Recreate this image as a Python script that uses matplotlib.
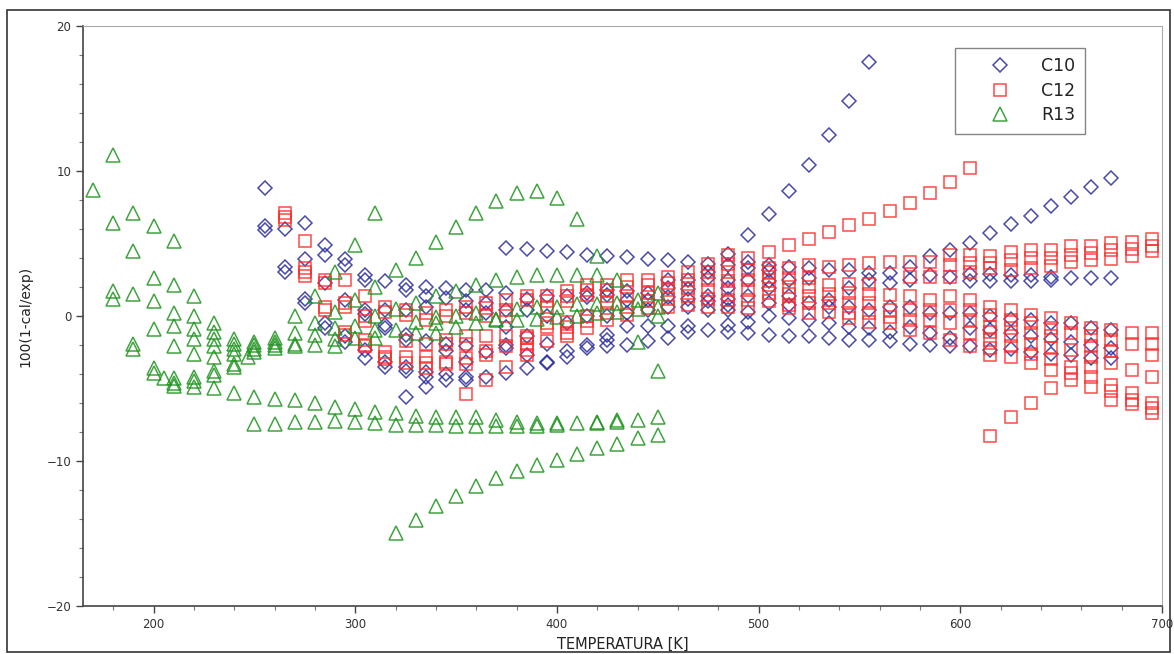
import matplotlib
matplotlib.use("Agg")
import matplotlib.pyplot as plt
from matplotlib.patches import Rectangle
from matplotlib.ticker import MultipleLocator
import numpy as np

# C10 deviations, one list per temperature column
c10_temps = [255, 265, 275, 285, 295, 305, 315, 325, 335, 345, 355, 365, 375, 385,
             395, 405, 415, 425, 435, 445, 455, 465, 475, 485, 495, 505, 515, 525,
             535, 545, 555, 565, 575, 585, 595, 605, 615, 625, 635, 645, 655, 665, 675]
c10_dev = [
    [8.8, 6.2, 5.9],
    [6.0, 3.4, 3.05],
    [6.4, 3.9, 1.2, 0.9],
    [4.9, 4.2, 2.25, -0.5, -0.85],
    [3.9, 3.5, 1.1, -1.4, -1.8],
    [2.8, 2.5, 0.4, 0.1, -2.35, -2.9],
    [2.4, 0.4, -0.6, -0.8, -3.15, -3.5],
    [2.1, 1.8, 0.4, -1.3, -1.65, -3.5, -3.8, -5.6],
    [2.0, 1.4, 0.6, -1.7, -3.85, -4.2, -4.9],
    [1.9, 1.25, -1.9, -2.45, -4.0, -4.4],
    [1.8, 1.0, 0.4, -2.1, -3.15, -4.2, -4.4],
    [1.8, 0.9, 0.2, -2.5, -4.2],
    [4.7, 1.55, 0.4, -0.75, -2.0, -2.2, -3.9],
    [4.6, 1.2, 0.4, -1.4, -2.7, -3.6],
    [4.5, 1.4, 0.0, -1.9, -3.15, -3.25],
    [4.4, 1.35, -0.5, -2.45, -2.8],
    [4.2, 1.55, 1.3, 0.0, -2.0, -2.2],
    [4.1, 1.8, 1.45, 0.0, -1.3, -1.65, -2.1],
    [4.05, 1.7, 1.1, 0.2, -0.7, -2.0],
    [3.9, 1.6, 1.1, 0.4, -0.7, -1.75],
    [3.85, 2.5, 1.9, 1.3, 0.6, -0.7, -1.55],
    [3.75, 2.5, 1.85, 1.2, 0.65, -0.7, -1.1],
    [3.6, 3.05, 2.6, 1.35, 1.0, 0.4, -1.0],
    [4.3, 3.5, 2.5, 1.9, 1.2, 0.75, 0.4, -0.6, -1.1],
    [5.6, 3.75, 3.3, 2.5, 1.35, 0.3, -0.4, -1.2],
    [7.0, 3.5, 3.2, 2.4, 1.9, 0.9, 0.0, -1.3],
    [8.6, 3.4, 2.5, 1.35, 0.75, -0.15, -1.4],
    [10.4, 3.3, 2.6, 0.9, -0.3, -1.4],
    [12.5, 3.2, 1.1, 0.65, -0.5, -1.5],
    [14.8, 3.2, 1.9, 0.65, -0.75, -1.65],
    [17.5, 2.95, 2.5, 0.4, -0.85, -1.65],
    [2.95, 2.25, 0.65, -1.1, -1.75],
    [3.4, 2.5, 0.65, -0.75, -1.9],
    [4.1, 2.8, 0.2, -1.2, -2.0],
    [4.55, 2.7, 0.2, -1.55, -2.1],
    [5.05, 2.9, 2.4, 0.2, -0.8, -2.1],
    [5.7, 2.9, 2.4, 0.0, -1.0, -2.35],
    [6.35, 2.8, 2.4, -0.2, -1.2, -2.3],
    [6.9, 2.8, 2.4, -0.3, -1.4, -2.5],
    [7.6, 2.7, 2.5, -0.5, -1.6, -2.6],
    [8.2, 2.6, -0.5, -1.8, -2.7],
    [8.9, 2.6, -0.8, -2.0, -2.9],
    [9.5, 2.6, -1.0, -2.2, -2.9],
]

# C12 deviations
c12_temps = [265, 275, 285, 295, 305, 315, 325, 335, 345, 355, 365, 375, 385, 395,
             405, 415, 425, 435, 445, 455, 465, 475, 485, 495, 505, 515, 525, 535,
             545, 555, 565, 575, 585, 595, 605, 615, 625, 635, 645, 655, 665, 675,
             685, 695]
c12_dev = [
    [7.1, 6.85, 6.6],
    [5.2, 3.3, 3.05, 2.75],
    [2.5, 2.25, 0.65, 0.4],
    [2.5, 0.9, 0.65, -1.1, -1.3],
    [1.35, 0.0, -0.35, -1.65, -2.0, -2.1],
    [0.65, 0.3, -2.5, -2.8, -3.0],
    [0.4, 0.07, -1.75, -2.8, -3.25],
    [0.2, -0.3, -1.9, -2.8, -3.25, -3.6],
    [0.4, 0.0, -1.65, -1.9, -3.15, -3.3],
    [0.65, 0.2, -1.4, -1.9, -2.9, -3.3, -5.35],
    [0.9, 0.55, 0.0, -1.4, -2.45, -2.7, -4.4],
    [1.1, 0.4, 0.0, -1.4, -2.1, -3.5],
    [1.35, 1.1, -1.4, -1.55, -1.9, -2.35, -2.7],
    [1.35, 1.0, 0.65, -0.5, -0.75, -1.75],
    [1.7, 1.35, 1.0, -0.4, -0.75, -1.2, -1.4],
    [2.1, 1.8, 1.45, 0.0, -0.35, -0.85],
    [2.1, 1.8, 1.35, 0.9, 0.2, -0.3],
    [2.5, 2.0, 1.35, 0.65, 0.07],
    [2.5, 2.1, 1.55, 1.0, 0.55],
    [2.7, 2.25, 1.8, 1.2, 0.65],
    [3.05, 2.5, 1.9, 1.35, 0.75],
    [3.6, 3.05, 2.5, 1.8, 1.2, 0.65],
    [4.2, 3.6, 3.05, 2.4, 1.8, 1.1, 0.65],
    [4.0, 3.2, 2.5, 1.8, 1.1, 0.55],
    [4.4, 3.3, 3.05, 2.7, 2.1, 1.55, 1.0],
    [4.9, 3.3, 2.6, 2.0, 1.5, 0.75, 0.55],
    [5.3, 3.5, 2.6, 2.0, 1.4, 0.9, 0.2],
    [5.8, 3.4, 2.1, 1.5, 0.9, 0.3],
    [6.3, 3.5, 2.2, 1.6, 0.9, 0.2, -0.15],
    [6.7, 3.65, 2.2, 1.5, 0.9, 0.2, -0.4],
    [7.25, 3.75, 1.45, 0.4, -0.1, -0.5],
    [7.8, 3.75, 2.7, 1.35, 0.4, -0.3, -0.95],
    [8.5, 3.75, 2.7, 1.1, 0.4, -0.3, -1.2],
    [9.25, 4.2, 3.5, 2.7, 1.35, 0.4, -0.5, -1.65],
    [10.2, 4.2, 3.65, 3.05, 1.1, 0.4, -0.3, -1.2, -2.1],
    [4.1, 3.65, 3.3, 0.65, 0.07, -0.75, -1.1, -1.65, -2.2, -2.7, -8.3],
    [4.4, 3.85, 3.2, 0.4, -0.3, -0.85, -1.4, -2.1, -2.8, -7.0],
    [4.55, 4.0, 3.3, 0.07, -0.5, -1.2, -1.9, -2.6, -3.25, -6.0],
    [4.55, 4.0, 3.45, -0.15, -0.85, -1.4, -2.2, -3.0, -3.7, -4.95],
    [4.8, 4.2, 3.75, -0.5, -1.2, -2.35, -3.5, -3.95, -4.4],
    [4.8, 4.35, 3.85, -0.85, -1.4, -2.1, -2.8, -3.5, -4.2, -4.9],
    [5.0, 4.55, 3.95, -1.0, -1.65, -2.45, -3.25, -4.75, -5.2, -5.8],
    [5.1, 4.65, 4.15, -1.2, -1.9, -3.7, -5.3, -5.8, -6.1],
    [5.3, 4.8, 4.5, -1.2, -1.9, -2.7, -4.2, -6.0, -6.35, -6.7],
]

# R13 deviations
r13_temps = [170, 180, 190, 200, 205, 210, 220, 230, 240, 247, 250, 260, 270, 280,
             290, 300, 310, 320, 330, 340, 350, 360, 370, 380, 390, 400, 410, 420,
             430, 440, 450]
r13_dev = [
    [8.7],
    [11.1, 6.4, 1.7, 1.2],
    [7.1, 4.5, 1.5, -1.9, -2.3],
    [6.2, 2.6, 1.0, -0.9, -3.6, -3.9],
    [-4.3],
    [5.2, 2.1, 0.2, -0.7, -2.1, -4.3, -4.6, -4.8],
    [1.4, 0.0, -0.9, -1.6, -2.6, -4.2, -4.5, -4.9],
    [-0.5, -1.1, -1.6, -2.1, -2.8, -3.8, -4.1, -5.0],
    [-1.6, -1.9, -2.3, -2.6, -3.3, -3.5, -5.3],
    [-2.8],
    [-1.8, -2.0, -2.3, -2.5, -5.6, -7.45],
    [-1.5, -1.8, -2.0, -2.2, -5.75, -7.45],
    [0.0, -1.15, -1.9, -2.1, -5.8, -7.3],
    [1.35, -0.5, -1.3, -2.0, -6.0, -7.3],
    [3.05, 0.3, -0.85, -1.6, -2.1, -6.25, -7.25],
    [4.9, 1.1, -0.7, -1.55, -6.4, -7.3],
    [7.1, 2.0, 0.0, -1.0, -1.5, -6.6, -7.4],
    [3.2, 0.5, -1.0, -6.7, -7.5, -15.0],
    [4.0, 0.9, -0.4, -1.2, -6.9, -7.5, -14.1],
    [5.1, 1.35, -0.1, -0.5, -1.2, -7.0, -7.5, -13.1],
    [6.1, 1.7, 0.0, -0.75, -7.0, -7.6, -12.4],
    [7.1, 2.1, 0.2, -0.5, -7.0, -7.6, -11.7],
    [7.9, 2.5, -0.3, -0.2, -7.2, -7.6, -11.2],
    [8.5, 2.7, 0.5, -0.3, -7.3, -7.6, -10.7],
    [8.6, 2.8, 0.65, -0.2, -7.4, -7.6, -10.3],
    [8.1, 2.8, 0.65, -0.1, -7.4, -7.5, -9.9],
    [6.7, 2.8, 0.8, 0.0, -7.4, -9.5],
    [4.1, 2.8, 0.8, 0.2, -7.3, -7.4, -9.1],
    [2.5, 0.9, 0.3, -7.2, -7.3, -8.8],
    [1.1, 0.5, -1.8, -7.2, -8.4],
    [1.6, 0.6, 0.0, -3.8, -7.0, -8.2],
]


def flatten(temps, devs):
    x = np.repeat(temps, [len(d) for d in devs])
    y = np.concatenate([np.array(d, dtype=float) for d in devs])
    return x, y


fig = plt.figure(figsize=(11.74, 6.54), dpi=100)
fig.patch.set_facecolor("white")
fig.patches.append(Rectangle((0.006, 0.003), 0.991, 0.982, transform=fig.transFigure,
                             fill=False, edgecolor="#333333", linewidth=1.2))

ax = fig.add_axes([0.0707, 0.0734, 0.919, 0.887])

series = [
    ("C10", c10_temps, c10_dev, "D", "#2b2b9e", 6.8),
    ("C12", c12_temps, c12_dev, "s", "#ff2a2a", 8.5),
    ("R13", r13_temps, r13_dev, "^", "#1f941f", 9.5),
]
for label, temps, devs, marker, color, ms in series:
    x, y = flatten(temps, devs)
    ax.plot(x, y, linestyle="none", marker=marker, markersize=ms,
            markerfacecolor="none", markeredgecolor=color, markeredgewidth=1.1,
            alpha=0.85, label=label)

ax.set_xlim(165, 700)
ax.set_ylim(-20, 20)
ax.xaxis.set_major_locator(MultipleLocator(100))
ax.xaxis.set_minor_locator(MultipleLocator(20))
ax.yaxis.set_major_locator(MultipleLocator(10))
ax.yaxis.set_minor_locator(MultipleLocator(2))
ax.tick_params(which="major", direction="out", length=5, width=1, labelsize=8.5,
               labelcolor="#333333", color="#444444")
ax.tick_params(which="minor", direction="out", length=3, width=0.8, color="#777777")

for side in ("left", "bottom"):
    ax.spines[side].set_color("#444444")
    ax.spines[side].set_linewidth(1.2)
for side in ("top", "right"):
    ax.spines[side].set_color("#aaaaaa")
    ax.spines[side].set_linewidth(0.8)

ax.set_xlabel("TEMPERATURA [K]", fontsize=10.5, color="#222222", labelpad=4)
ax.set_ylabel("100(1-cal/exp)", fontsize=10, color="#222222", labelpad=10)

leg = ax.legend(loc="upper right", bbox_to_anchor=(0.9287, 0.962), frameon=True,
                fancybox=False, edgecolor="#666666", fontsize=12.5,
                handletextpad=0.4, borderpad=0.55, labelspacing=0.36,
                markerfirst=True, handlelength=4.0, borderaxespad=0.0)
leg.get_frame().set_linewidth(1.0)
for t in leg.get_texts():
    t.set_color("#222222")

fig.savefig("out.png", dpi=100)
